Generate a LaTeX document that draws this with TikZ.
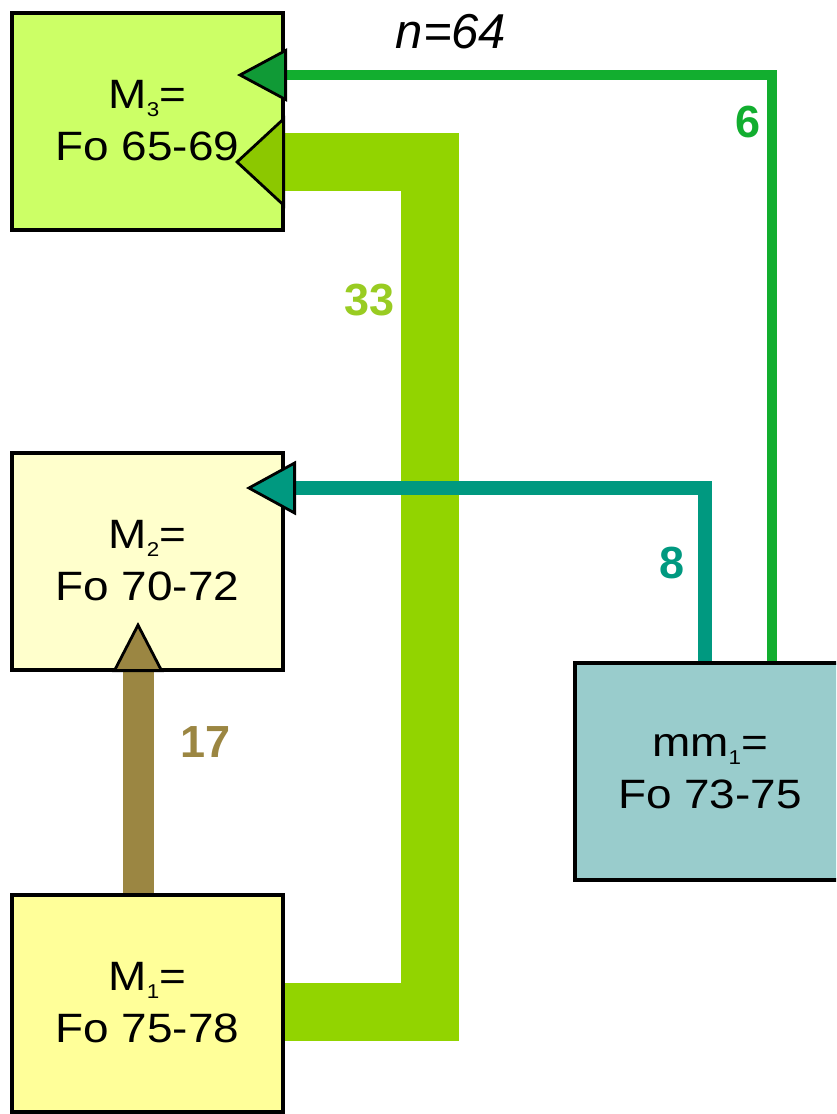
\documentclass[tikz,border=0pt]{standalone}
\usepackage{fontspec}
\setmainfont{Liberation Sans}
\newfontfamily\boxfont[FakeStretch=1.12]{Liberation Sans}
\usetikzlibrary{arrows.meta,calc}
\definecolor{mthree}{HTML}{CCFF66}
\definecolor{mtwo}{HTML}{FFFFCC}
\definecolor{mone}{HTML}{FFFF99}
\definecolor{mmone}{HTML}{99CCCC}
\definecolor{flowsix}{HTML}{12AE2F}
\definecolor{flowsixtip}{HTML}{109A36}
\definecolor{floweight}{HTML}{009980}
\definecolor{flowthirty}{HTML}{92D400}
\definecolor{flowthirtytip}{HTML}{8CC800}
\definecolor{labelthirty}{HTML}{99CC22}
\definecolor{flowseventeen}{HTML}{9B8642}
\newcommand{\subidx}[1]{{\fontsize{20}{20}\selectfont\raisebox{-8pt}{#1}}}
\begin{document}
\begin{tikzpicture}[x=1pt,y=-1pt,
  box/.style={draw=black, line width=4pt, minimum width=271pt, minimum height=217pt,
    inner sep=0pt, align=center, font=\boxfont\fontsize{41}{52}\selectfont},
  flow/.style={line join=miter, line cap=butt},
  count/.style={font=\bfseries\fontsize{45}{45}\selectfont, inner sep=0pt},
  headtip/.style n args={3}{-{Triangle[length=50pt 0 0, width=#1 0 0, line width=2.8pt 0, color=black, fill=#2, #3]}}
]
\fill[white] (0,0) rectangle (836,1114);
\useasboundingbox (0,0) rectangle (836,1114);
\clip (0,0) rectangle (836,1114);

% boxes
\node[box, fill=mthree] (m3) at (147.5,121) {M\subidx{3}=\\Fo 65-69};
\node[box, fill=mtwo] (m2) at (147.5,561) {M\subidx{2}=\\Fo 70-72};
\node[box, fill=mone] (m1) at (147.5,1003) {M\subidx{1}=\\Fo 75-78};
\node[box, fill=mmone, minimum width=300pt] (mm1) at (725,771.5)
  {\hspace*{-30pt}mm\subidx{1}=\\\hspace*{-30pt}Fo 73-75};

% anchor points of the connectors
\coordinate (s33) at ([yshift=-9pt]m1.east);
\coordinate (k33) at (430,162);
\coordinate (t33) at (235,162);
\coordinate (s8) at ([xshift=132pt]mm1.north west);
\coordinate (t8) at (246,488);
\coordinate (s6) at ([xshift=199pt]mm1.north west);
\coordinate (t6) at (237,75);
\coordinate (s17) at ([xshift=-9.5pt]m1.north);
\coordinate (t17) at (138,622);

% connectors
\draw[flow, flowthirty, line width=58pt, headtip={92pt}{flowthirtytip}{}] (s33) -| (k33) -- (t33);
\draw[flow, floweight, line width=14pt, headtip={54pt}{floweight}{}] (s8) |- (t8);
\draw[flow, flowsix, line width=10.5pt, headtip={53pt}{flowsixtip}{}] (s6) |- (t6);
\draw[flow, flowseventeen, line width=31pt, headtip={51pt}{flowseventeen}{}] (s17) -- (t17);

% labels
\node[count, text=labelthirty] (l33) at (370,300) {33};
\node[count, text=floweight] (l8) at (672,563) {8};
\node[count, text=flowsix] (l6) at (748,122) {6};
\node[count, text=flowseventeen] (l17) at (206,742) {17};
\node[font=\itshape\fontsize{49}{49}\selectfont, inner sep=0pt] (n) at (451,32) {n=64};
\end{tikzpicture}
\end{document}
